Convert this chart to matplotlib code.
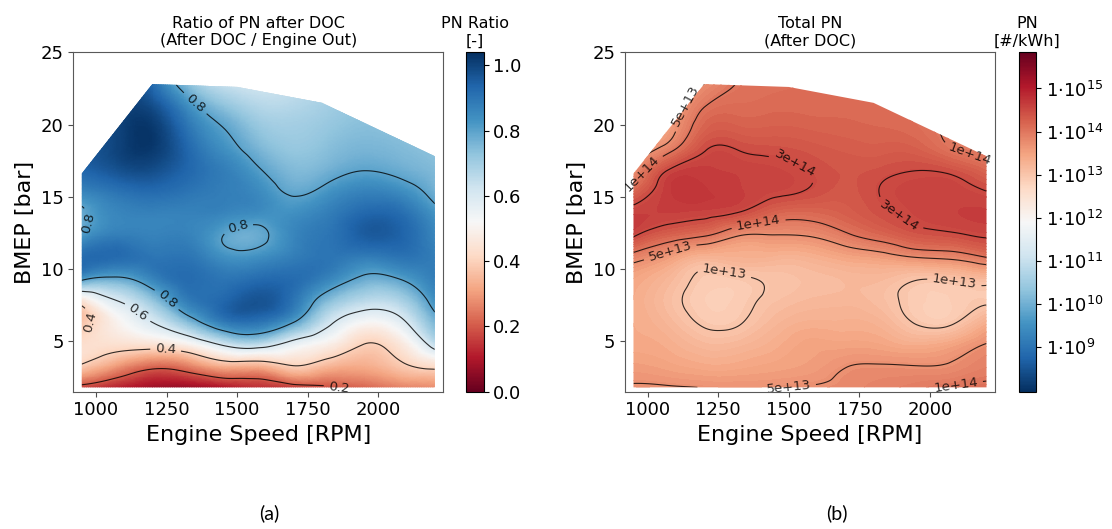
import numpy as np
import matplotlib.pyplot as plt
import matplotlib.tri as mtri
from matplotlib.patches import Polygon
from matplotlib.colors import Normalize
from matplotlib.cm import ScalarMappable

# measuring grid of the engine map
speed = [950, 1075, 1200, 1325, 1450, 1575, 1700, 1825, 1950, 2075, 2200]
bmep = [1.8, 3.3, 4.8, 6.3, 7.8, 9.3, 10.8, 12.3, 13.8, 15.3, 16.8, 18.3, 19.8, 21.3, 22.8]

# outer edge of the measured map (full load line)
map_speed = [950, 950, 1200, 1500, 1800, 2200, 2200]
map_bmep = [1.8, 16.6, 22.8, 22.6, 21.5, 17.8, 1.8]

# PN ratio after DOC / engine out, one row per speed, BMEP low -> high
pn_ratio = [
    [0.17, 0.39, 0.43, 0.37, 0.45, 0.82, 0.92, 0.82, 0.78, 0.86, 0.93, 0.96, 0.98, 0.98, 0.98],  # 950
    [0.12, 0.30, 0.44, 0.50, 0.60, 0.78, 0.92, 0.88, 0.86, 0.90, 0.97, 1.00, 1.00, 1.00, 1.00],  # 1075
    [0.08, 0.23, 0.45, 0.60, 0.72, 0.86, 0.90, 0.87, 0.87, 0.92, 0.98, 1.02, 1.02, 0.98, 0.92],  # 1200
    [0.07, 0.26, 0.50, 0.74, 0.88, 0.92, 0.90, 0.87, 0.87, 0.90, 0.93, 0.93, 0.90, 0.84, 0.74],  # 1325
    [0.10, 0.34, 0.62, 0.88, 0.93, 0.90, 0.84, 0.80, 0.86, 0.88, 0.88, 0.84, 0.80, 0.73, 0.64],  # 1450
    [0.14, 0.34, 0.66, 0.90, 0.97, 0.92, 0.84, 0.78, 0.84, 0.85, 0.81, 0.76, 0.72, 0.67, 0.62],  # 1575
    [0.16, 0.40, 0.56, 0.80, 0.90, 0.92, 0.88, 0.86, 0.84, 0.79, 0.75, 0.72, 0.70, 0.67, 0.64],  # 1700
    [0.19, 0.35, 0.49, 0.62, 0.74, 0.86, 0.90, 0.90, 0.88, 0.83, 0.77, 0.74, 0.72, 0.70, 0.68],  # 1825
    [0.22, 0.33, 0.40, 0.52, 0.66, 0.78, 0.88, 0.95, 0.93, 0.87, 0.80, 0.76, 0.74, 0.72, 0.70],  # 1950
    [0.26, 0.38, 0.46, 0.57, 0.68, 0.80, 0.90, 0.94, 0.92, 0.85, 0.78, 0.75, 0.73, 0.71, 0.70],  # 2075
    [0.28, 0.43, 0.65, 0.76, 0.84, 0.88, 0.88, 0.86, 0.83, 0.77, 0.75, 0.73, 0.72, 0.71, 0.70],  # 2200
]

# total PN after DOC [#/kWh], one row per speed, BMEP low -> high
pn_total = [
    [5.5e13, 3.5e13, 2.6e13, 2.4e13, 2.4e13, 2.8e13, 7.0e13, 3.2e14, 4.0e14, 1.6e14, 5.0e13, 3.5e13, 3.0e13, 3.0e13, 3.0e13],
    [5.3e13, 3.0e13, 2.2e13, 1.6e13, 1.3e13, 1.6e13, 3.5e13, 1.6e14, 4.0e14, 4.6e14, 3.2e14, 7.5e13, 3.5e13, 3.0e13, 3.0e13],
    [4.9e13, 2.5e13, 1.5e13, 9.0e12, 7.5e12, 8.5e12, 1.8e13, 1.05e14, 3.6e14, 5.0e14, 4.3e14, 2.8e14, 1.6e14, 9.5e13, 5.0e13],
    [4.7e13, 2.6e13, 1.6e13, 9.5e12, 8.0e12, 9.0e12, 2.0e13, 5.0e13, 2.7e14, 4.2e14, 3.9e14, 2.9e14, 1.8e14, 1.3e14, 1.05e14],
    [4.8e13, 3.0e13, 2.2e13, 1.6e13, 1.2e13, 1.1e13, 1.9e13, 4.8e13, 1.5e14, 3.4e14, 3.6e14, 2.6e14, 1.8e14, 1.4e14, 1.2e14],
    [5.3e13, 3.5e13, 3.0e13, 2.1e13, 1.5e13, 1.3e13, 2.0e13, 5.2e13, 1.35e14, 2.8e14, 2.9e14, 2.3e14, 1.7e14, 1.4e14, 1.3e14],
    [6.0e13, 4.8e13, 3.0e13, 2.1e13, 1.6e13, 1.5e13, 2.8e13, 8.5e13, 1.8e14, 2.3e14, 2.4e14, 2.0e14, 1.6e14, 1.4e14, 1.3e14],
    [7.0e13, 5.2e13, 2.8e13, 1.8e13, 1.3e13, 1.5e13, 3.5e13, 1.4e14, 2.6e14, 3.05e14, 2.6e14, 1.9e14, 1.5e14, 1.3e14, 1.2e14],
    [8.5e13, 5.0e13, 2.2e13, 9.5e12, 8.0e12, 1.05e13, 5.0e13, 2.2e14, 3.5e14, 3.8e14, 3.0e14, 1.8e14, 1.3e14, 1.1e14, 1.0e14],
    [1.05e14, 5.4e13, 2.8e13, 9.0e12, 7.5e12, 1.1e13, 6.0e13, 2.6e14, 4.0e14, 3.9e14, 2.6e14, 1.05e14, 8.5e13, 8.0e13, 8.0e13],
    [1.15e14, 7.5e13, 5.1e13, 2.2e13, 9.0e12, 1.4e13, 1.0e14, 3.2e14, 4.2e14, 3.1e14, 1.5e14, 8.0e13, 8.0e13, 8.0e13, 8.0e13],
]

ratio_levels = [0.2, 0.4, 0.6, 0.8]
pn_levels = [1e13, 5e13, 1e14, 3e14]

# where the contour labels sit (speed, bmep)
ratio_label_pos = [(1353, 21.5), (990, 13.1), (1511, 12.2), (1252, 7.9),
                   (1139, 6.8), (985, 6.3), (1246, 4.1), (1900, 1.95)]
pn_label_pos = [(1143, 21.2), (1000, 16.4), (1514, 17.0), (1393, 13.1),
                (1076, 11.4), (1273, 9.9), (2085, 8.9), (1901, 13.9),
                (2142, 18.2), (1349, 1.9), (2091, 2.0)]

# smooth surface on the measuring grid
X, Y = np.meshgrid(speed, bmep)
tri = mtri.Triangulation(X.ravel(), Y.ravel())
refiner = mtri.UniformTriRefiner(tri)


def refine(values):
    z = np.array(values, dtype=float).T.ravel()
    return refiner.refine_field(z, subdiv=4)


def setup_axes(ax, title):
    ax.set_xlim(920, 2230)
    ax.set_ylim(1.5, 25)
    ax.set_xticks([1000, 1250, 1500, 1750, 2000])
    ax.set_yticks([5, 10, 15, 20, 25])
    ax.tick_params(labelsize=13, color='0.3')
    ax.set_xlabel('Engine Speed [RPM]', fontsize=16)
    ax.set_ylabel('BMEP [bar]', fontsize=16)
    ax.set_title(title, fontsize=11.5, pad=5)
    for sp in ax.spines.values():
        sp.set_color('0.35')
    poly = Polygon(np.column_stack([map_speed, map_bmep]), closed=True,
                   facecolor='none', edgecolor='none', transform=ax.transData)
    ax.add_patch(poly)
    return poly


W, H = 1112, 529
fig = plt.figure(figsize=(W / 100, H / 100), dpi=100)
ax1 = fig.add_axes([73.3 / W, 137.3 / H, 370 / W, 339.4 / H])
cax1 = fig.add_axes([466 / W, 137.3 / H, 17.5 / W, 339.4 / H])
ax2 = fig.add_axes([625 / W, 137.3 / H, 370 / W, 339.4 / H])
cax2 = fig.add_axes([1018.5 / W, 137.3 / H, 17.5 / W, 339.4 / H])

# (a) PN ratio
poly1 = setup_axes(ax1, 'Ratio of PN after DOC\n(After DOC / Engine Out)')
tri_f, z1 = refine(pn_ratio)
im1 = ax1.tripcolor(tri_f, z1, shading='gouraud', cmap='RdBu', vmin=0, vmax=1.04)
im1.set_clip_path(poly1)
cs1 = ax1.tricontour(tri_f, z1, levels=ratio_levels, colors='k', linewidths=0.8, alpha=0.8)
cs1.set_clip_path(poly1)
ax1.clabel(cs1, fmt='%.1f', fontsize=9.5, inline=True, manual=ratio_label_pos)
for t in cs1.labelTexts:
    t.set_clip_path(poly1)

cb1 = fig.colorbar(im1, cax=cax1, ticks=[0, 0.2, 0.4, 0.6, 0.8, 1.0])
cb1.ax.tick_params(labelsize=13)
cb1.ax.set_yticklabels(['0.0', '0.2', '0.4', '0.6', '0.8', '1.0'])
cax1.set_title('PN Ratio\n[-]', fontsize=11.5, pad=5)

# (b) total PN, drawn on log10 values
poly2 = setup_axes(ax2, 'Total PN\n(After DOC)')
tri_f, z2 = refine(np.log10(pn_total))
norm2 = Normalize(7.955, 15.84)
cf2 = ax2.tricontourf(tri_f, z2, levels=np.linspace(7.955, 15.84, 110), cmap='RdBu_r', norm=norm2)
cf2.set_clip_path(poly2)
cs2 = ax2.tricontour(tri_f, z2, levels=np.log10(pn_levels), colors='k', linewidths=0.8, alpha=0.8)
cs2.set_clip_path(poly2)
ax2.clabel(cs2, fmt=lambda v: f'{10 ** v:.0e}', fontsize=9.5, inline=True, manual=pn_label_pos)
for t in cs2.labelTexts:
    t.set_clip_path(poly2)

cb2 = fig.colorbar(ScalarMappable(norm=norm2, cmap='RdBu_r'), cax=cax2)
exps = [9, 10, 11, 12, 13, 14, 15]
cb2.set_ticks(exps)
cb2.set_ticklabels([r'$1{\cdot}10^{%d}$' % e for e in exps])
cb2.ax.tick_params(labelsize=13)
cax2.set_title('PN\n[#/kWh]', fontsize=11.5, pad=5)

fig.text(269.5 / W, 1 - 513 / H, '(a)', ha='center', va='center', fontsize=14, family='Lato')
fig.text(837 / W, 1 - 513 / H, '(b)', ha='center', va='center', fontsize=14, family='Lato')

fig.savefig('out.png', dpi=100)
